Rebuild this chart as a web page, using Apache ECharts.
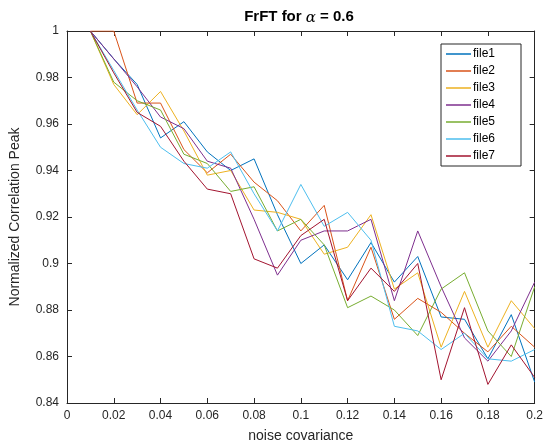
<!DOCTYPE html>
<html>
<head>
<meta charset="utf-8">
<script src="https://cdn.jsdelivr.net/npm/echarts@6/dist/echarts.min.js"></script>
<style>
  html, body { margin: 0; padding: 0; background: #fff; }
  #chart { width: 546px; height: 448px; }
</style>
</head>
<body>
<div id="chart"></div>
<script>
// noise covariance steps
const noise = [0.01, 0.02, 0.03, 0.04, 0.05, 0.06, 0.07, 0.08, 0.09, 0.10,
               0.11, 0.12, 0.13, 0.14, 0.15, 0.16, 0.17, 0.18, 0.19, 0.20];

// normalized correlation peak per file
const file1 = [1, 0.988, 0.977, 0.954, 0.961, 0.948, 0.940, 0.945, 0.921, 0.900,
               0.908, 0.893, 0.909, 0.892, 0.903, 0.877, 0.876, 0.859, 0.878, 0.849];
const file2 = [1, 1, 0.969, 0.969, 0.949, 0.939, 0.947, 0.935, 0.927, 0.914,
               0.925, 0.884, 0.907, 0.876, 0.885, 0.879, 0.870, 0.862, 0.873, 0.864];
const file3 = [1, 0.977, 0.964, 0.974, 0.957, 0.938, 0.940, 0.923, 0.922, 0.919,
               0.904, 0.907, 0.921, 0.889, 0.896, 0.864, 0.888, 0.864, 0.884, 0.872];
const file4 = [1, 0.988, 0.976, 0.963, 0.958, 0.944, 0.941, 0.919, 0.895, 0.910,
               0.914, 0.914, 0.919, 0.884, 0.914, 0.890, 0.868, 0.858, 0.871, 0.892];
const file5 = [1, 0.978, 0.970, 0.966, 0.947, 0.943, 0.931, 0.933, 0.914, 0.919,
               0.908, 0.881, 0.886, 0.880, 0.869, 0.889, 0.896, 0.871, 0.860, 0.890];
const file6 = [1, 0.983, 0.966, 0.950, 0.943, 0.941, 0.948, 0.930, 0.914, 0.934,
               0.916, 0.922, 0.910, 0.873, 0.871, 0.863, 0.870, 0.859, 0.858, 0.863];
const file7 = [1, 0.982, 0.965, 0.959, 0.944, 0.932, 0.930, 0.902, 0.898, 0.912,
               0.919, 0.884, 0.898, 0.888, 0.900, 0.850, 0.881, 0.848, 0.865, 0.851];

const seriesNames = ['file1', 'file2', 'file3', 'file4', 'file5', 'file6', 'file7'];
const seriesData = [file1, file2, file3, file4, file5, file6, file7];
const colors = ['#0072BD', '#D95319', '#EDB120', '#7E2F8E', '#77AC30', '#4DBEEE', '#A2142F'];

const axisColor = '#262626';
const fontFamily = 'Liberation Sans, Arial, sans-serif';

function tickLabel(v) {
  return String(+Number(v).toFixed(2));
}

const chart = echarts.init(document.getElementById('chart'), null, { renderer: 'canvas' });

const baseAxis = {
  axisLine: { show: true, onZero: false, lineStyle: { color: axisColor, width: 1 } },
  axisTick: { show: true, inside: true, length: 5, lineStyle: { color: axisColor } },
  splitLine: { show: false }
};

chart.setOption({
  animation: false,
  backgroundColor: '#ffffff',
  color: colors,
  title: {
    text: 'FrFT for {a|α} = 0.6',
    left: 294,
    textAlign: 'center',
    top: 3,
    textStyle: {
      fontFamily: fontFamily,
      fontSize: 15,
      fontWeight: 'bold',
      color: '#000',
      rich: {
        a: { fontFamily: 'DejaVu Serif, serif', fontStyle: 'italic', fontSize: 15, fontWeight: 'normal', color: '#000', padding: [3, 0, 0, 0] }
      }
    }
  },
  legend: {
    orient: 'vertical',
    left: 441,
    top: 44,
    data: seriesNames,
    icon: 'rect',
    backgroundColor: '#ffffff',
    borderColor: axisColor,
    borderWidth: 1,
    borderRadius: 0,
    padding: [4, 26, 4, 5],
    itemWidth: 25,
    itemHeight: 1.5,
    itemGap: 5,
    textStyle: { fontFamily: fontFamily, fontSize: 12, color: '#000', padding: [0, 0, 0, -3] }
  },
  grid: { left: 63, top: 31, width: 474, height: 373, containLabel: false },
  xAxis: [
    Object.assign({}, baseAxis, {
      type: 'value', min: 0, max: 0.2, interval: 0.02,
      name: 'noise covariance', nameLocation: 'middle', nameGap: 26,
      nameTextStyle: { fontFamily: fontFamily, fontSize: 14, color: axisColor },
      axisLabel: { formatter: tickLabel, fontFamily: fontFamily, fontSize: 12, color: axisColor, margin: 7 }
    }),
    Object.assign({}, baseAxis, {
      type: 'value', min: 0, max: 0.2, interval: 0.02, position: 'top',
      axisLabel: { show: false }
    })
  ],
  yAxis: [
    Object.assign({}, baseAxis, {
      type: 'value', min: 0.84, max: 1, interval: 0.02,
      name: 'Normalized Correlation Peak', nameLocation: 'middle', nameGap: 45,
      nameTextStyle: { fontFamily: fontFamily, fontSize: 14, color: axisColor },
      axisLabel: { formatter: tickLabel, fontFamily: fontFamily, fontSize: 12, color: axisColor, margin: 8 }
    }),
    Object.assign({}, baseAxis, {
      type: 'value', min: 0.84, max: 1, interval: 0.02, position: 'right',
      axisLabel: { show: false }
    })
  ],
  series: seriesNames.map((name, i) => ({
    name: name,
    type: 'line',
    data: noise.map((x, j) => [x, seriesData[i][j]]),
    symbol: 'none',
    lineStyle: { width: 1, color: colors[i] },
    itemStyle: { color: colors[i] },
    clip: true
  }))
});
</script>
</body>
</html>
